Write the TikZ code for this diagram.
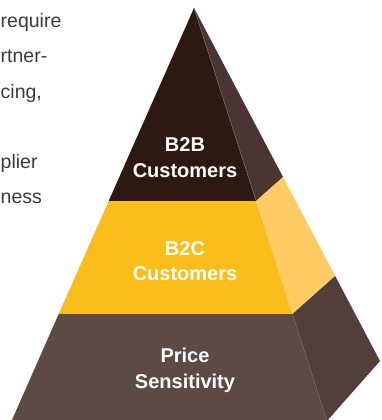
\documentclass[tikz,border=0pt]{standalone}
\usepackage{fontspec}
\setmainfont{Liberation Sans}

\definecolor{topfront}{HTML}{2D1912}
\definecolor{topside}{HTML}{4B3431}
\definecolor{midfront}{HTML}{FBBD1A}
\definecolor{midside}{HTML}{FFCC63}
\definecolor{lowfront}{HTML}{5E4A44}
\definecolor{lowside}{HTML}{523F3C}
\definecolor{ridge}{HTML}{7A6660}
\definecolor{bodygray}{HTML}{3A3A3A}

\begin{document}
\begin{tikzpicture}[x=1pt, y=-1pt,
    tier/.style={text=white, align=center, anchor=base,
        font=\fontsize{20}{25.6}\selectfont\bfseries},
    para/.style={text=bodygray, anchor=base west,
        font=\fontsize{19.5}{35}\selectfont, inner sep=0pt}
]

\useasboundingbox (0,0) rectangle (381,420);
\clip (0,0) rectangle (381,420);

% corner points of the pyramid
\coordinate (apex) at (194,8);
\coordinate (l1) at (108.7,201);
\coordinate (r1) at (256.1,201);
\coordinate (s1) at (283,177);
\coordinate (l2) at (58.7,314);
\coordinate (r2) at (292.5,314);
\coordinate (s2) at (335.2,276);
\coordinate (l3) at (11.5,421);
\coordinate (r3) at (327,421);
\coordinate (s3) at (380,361);

% faces, top to bottom
\fill[topfront] (apex) -- (l1) -- (r1) -- cycle;
\fill[topside] (apex) -- (r1) -- (s1) -- cycle;
\fill[midfront] (l1) -- (r1) -- (r2) -- (l2) -- cycle;
\fill[midside] (r1) -- (s1) -- (s2) -- (r2) -- cycle;
\fill[lowfront] (l2) -- (r2) -- (r3) -- (l3) -- cycle;
\fill[lowside] (r2) -- (s2) -- (s3) -- (r3) -- cycle;

% ridge between front and side
\draw[ridge, line width=0.5pt] (apex) -- (r1);
\draw[ridge, line width=0.5pt] (r2) -- (r3);

% labels sit on the baseline of their last line
\node[tier] (b2b) at (185,177.3) {B2B\\Customers};
\node[tier] (b2c) at (185,280.7) {B2C\\Customers};
\node[tier] (price) at (185,388) {Price\\Sensitivity};

% paragraph beside the pyramid
\node[para] (p1) at (0.5,28) {require};
\node[para] (p2) at (0.5,63) {rtner-};
\node[para] (p3) at (0.5,98) {cing,};
\node[para] (p4) at (0.5,168) {plier};
\node[para] (p5) at (0.5,203) {ness};

\end{tikzpicture}
\end{document}
